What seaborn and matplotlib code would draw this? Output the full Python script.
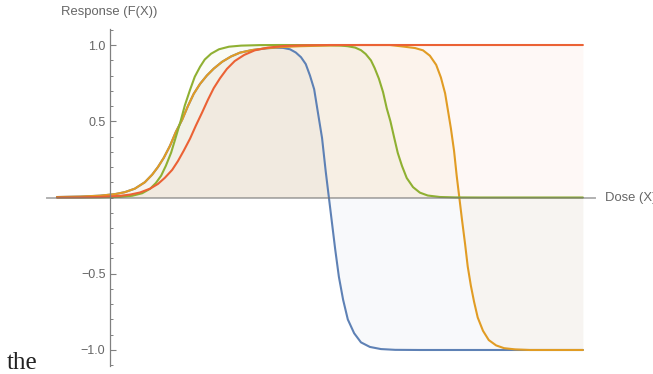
import pandas as pd
import matplotlib
matplotlib.use("Agg")
import matplotlib.pyplot as plt
from matplotlib.ticker import FixedLocator, MultipleLocator
import seaborn as sns

# values (dose, response)
blue_x = [-1.00, -0.56, -0.18, 0.10, 0.29, 0.48, 0.67, 0.81, 0.92, 1.03, 1.15, 1.26, 1.38, 1.49, 1.60,
          1.72, 1.85, 1.98, 2.14, 2.31, 2.48, 2.71, 2.86, 3.01, 3.16, 3.30, 3.43, 3.54, 3.64, 3.73,
          3.81, 3.89, 3.96, 4.04, 4.11, 4.17, 4.23, 4.29, 4.36, 4.44, 4.53, 4.65, 4.78, 4.95, 5.16,
          5.43, 5.90, 9.00]
blue_y = [0.003, 0.006, 0.012, 0.022, 0.035, 0.058, 0.10, 0.15, 0.20, 0.26, 0.34, 0.43, 0.51, 0.60, 0.68,
          0.745, 0.80, 0.845, 0.89, 0.925, 0.95, 0.967, 0.973, 0.979, 0.982, 0.981, 0.972, 0.951, 0.92, 0.875,
          0.80, 0.71, 0.56, 0.39, 0.17, 0.0, -0.17, -0.34, -0.52, -0.67, -0.80, -0.89, -0.95, -0.98, -0.994,
          -0.999, -1.0, -1.0]

orange_x = [-1.00, -0.56, -0.18, 0.10, 0.29, 0.48, 0.67, 0.81, 0.92, 1.03, 1.15, 1.26, 1.38, 1.49, 1.60,
            1.72, 1.85, 1.98, 2.14, 2.31, 2.48, 2.71, 2.95, 3.24, 3.62, 4.19, 4.76, 5.33, 5.58, 5.81,
            5.96, 6.09, 6.21, 6.30, 6.38, 6.43, 6.49, 6.55, 6.60, 6.65, 6.70, 6.76, 6.81, 6.87, 6.93,
            7.00, 7.10, 7.21, 7.35, 7.50, 7.71, 7.99, 9.00]
orange_y = [0.003, 0.006, 0.012, 0.022, 0.035, 0.058, 0.10, 0.15, 0.20, 0.26, 0.34, 0.43, 0.51, 0.60, 0.68,
            0.745, 0.80, 0.845, 0.89, 0.925, 0.95, 0.967, 0.978, 0.986, 0.992, 0.997, 1.0, 1.0, 0.99, 0.98,
            0.965, 0.93, 0.87, 0.787, 0.683, 0.579, 0.453, 0.306, 0.143, 0.0, -0.143, -0.306, -0.453, -0.579, -0.683,
            -0.787, -0.874, -0.935, -0.97, -0.988, -0.996, -1.0, -1.0]

green_x = [-1.00, -0.18, 0.20, 0.43, 0.62, 0.77, 0.88, 0.98, 1.07, 1.17, 1.26, 1.35, 1.43, 1.53, 1.62,
           1.72, 1.81, 1.93, 2.08, 2.27, 2.50, 2.86, 3.24, 4.19, 4.38, 4.53, 4.67, 4.78, 4.87, 4.97,
           5.04, 5.12, 5.20, 5.27, 5.34, 5.41, 5.48, 5.56, 5.65, 5.77, 5.90, 6.05, 6.28, 6.57, 7.04,
           9.00]
green_y = [0.0, 0.0006, 0.0038, 0.0114, 0.028, 0.057, 0.095, 0.143, 0.208, 0.294, 0.397, 0.50, 0.603, 0.706, 0.792,
           0.857, 0.905, 0.943, 0.972, 0.989, 0.996, 0.9994, 1.0, 0.999, 0.997, 0.992, 0.983, 0.966, 0.941, 0.899,
           0.849, 0.78, 0.691, 0.585, 0.50, 0.395, 0.292, 0.207, 0.128, 0.068, 0.032, 0.013, 0.0033, 0.0006, 0.0,
           0.0]

red_x = [-1.00, -0.56, -0.18, 0.20, 0.39, 0.58, 0.77, 0.92, 1.05, 1.19, 1.30, 1.41, 1.53, 1.64, 1.76,
         1.87, 1.98, 2.10, 2.23, 2.38, 2.56, 2.76, 3.01, 3.33, 3.71, 4.19, 9.00]
red_y = [0.0003, 0.001, 0.0034, 0.011, 0.019, 0.033, 0.058, 0.089, 0.129, 0.181, 0.239, 0.307, 0.386, 0.471, 0.558,
         0.641, 0.717, 0.782, 0.843, 0.895, 0.935, 0.965, 0.983, 0.994, 0.998, 1.0, 1.0]

curve_names = ["blue", "orange", "green", "red"]
curve_colors = ["#5E81B5", "#E19C24", "#8FB032", "#EB6235"]

ytick_values = [-1.0, -0.5, 0.5, 1.0]
ytick_labels = ["\u22121.0", "\u22120.5", "0.5", "1.0"]

series = {"blue": (blue_x, blue_y), "orange": (orange_x, orange_y),
          "green": (green_x, green_y), "red": (red_x, red_y)}

frames = []
for name in curve_names:
    xs, ys = series[name]
    frames.append(pd.DataFrame({"dose": xs, "response": ys, "curve": name}))
df = pd.concat(frames, ignore_index=True)

sns.set_theme(style="white")
plt.rcParams["font.family"] = ["Liberation Sans", "DejaVu Sans"]

fig = plt.figure(figsize=(6.53, 3.74), dpi=100)
ax = fig.add_axes([47 / 653, 8 / 374, 548 / 653, 337 / 374])

# filling to the axis, very light
for name, col in zip(curve_names, curve_colors):
    xs, ys = series[name]
    ax.fill_between(xs, ys, 0, color=col, alpha=0.045, lw=0, zorder=1)

sns.lineplot(data=df, x="dose", y="response", hue="curve", hue_order=curve_names,
             palette=curve_colors, sort=False, estimator=None, legend=False,
             lw=1.5, ax=ax, zorder=2)

ax.set_xlim(-1.19, 9.23)
ax.set_ylim(-1.105, 1.105)
ax.set_xlabel("")
ax.set_ylabel("")

for s in ["top", "right"]:
    ax.spines[s].set_visible(False)
ax.spines["left"].set_position(("data", 0))
ax.spines["bottom"].set_position(("data", 0))
ax.spines["left"].set_color("#808080")
ax.spines["left"].set_linewidth(0.9)
ax.spines["bottom"].set_color((0.45, 0.45, 0.45, 0.55))
ax.spines["bottom"].set_linewidth(1.4)
ax.spines["bottom"].set_zorder(3)

ax.set_xticks([])
ax.yaxis.set_major_locator(FixedLocator(ytick_values))
ax.set_yticklabels(ytick_labels)
ax.yaxis.set_minor_locator(MultipleLocator(0.1))
ax.tick_params(axis="y", which="major", direction="in", length=4, width=0.8,
               color="#808080", labelcolor="#666666", labelsize=9, pad=3, left=True)
ax.tick_params(axis="y", which="minor", direction="in", length=2.5, width=0.7,
               color="#808080", left=True)

ax.text(0, 1.217, "Response (F(X))", ha="center", va="center", fontsize=9.4,
        color="#666666", clip_on=False)
ax.text(9.42, 0, "Dose (X)", ha="left", va="center", fontsize=9.4,
        color="#666666", clip_on=False)

fig.text(7 / 653, 5 / 374, "the", family=["Liberation Serif", "DejaVu Serif"],
         fontsize=18, color="#222222", va="baseline")

fig.savefig("out.png", dpi=100)
plt.close(fig)
